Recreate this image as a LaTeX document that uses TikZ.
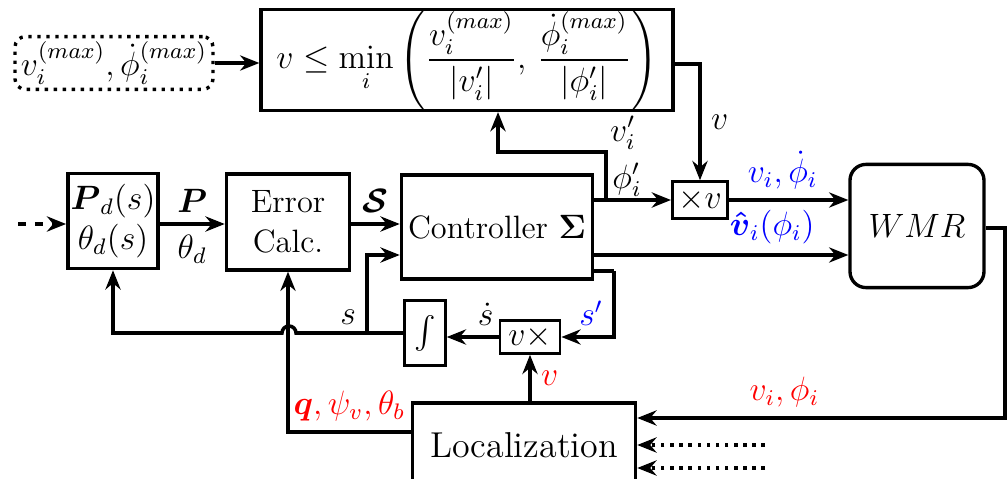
\documentclass[tikz,border=0pt]{standalone}
\usepackage{amsmath,amssymb}
\usepackage{tikz}
\usetikzlibrary{arrows.meta,positioning,calc}

\begin{document}
\begin{tikzpicture}[x=0.125mm, y=-0.125mm, line width=1.25pt,
    every node/.style={font=\fontsize{11.5}{14}\selectfont},
    blk/.style={draw, line width=1.2pt, inner sep=1pt},
    arr/.style={-{Stealth[length=2.4mm,width=1.9mm]}}]
            \useasboundingbox (0,0) rectangle (1008,479);

            % Blocks
            \node[blk, dotted, rounded corners=1.3mm, minimum width=24.75mm, minimum height=6.6mm] (Lim) at (114,63) {$v_i^{(max)},\dot{\phi}_i^{(max)}$};
            \node[blk, inner sep=0pt, minimum width=51.5mm, minimum height=12.6mm, font=\fontsize{11.9}{14}\selectfont] (MinBox) at (467,60) {$v \le \displaystyle\min_i \left(\frac{v_i^{(max)}}{|v_i'|},\, \frac{\dot{\phi}_i^{(max)}}{|\phi_i'|}\right)$};
            \node[blk, align=center, minimum width=11.25mm, minimum height=11.9mm] (Pd) at (113,221) {$\boldsymbol{P}_d(s)$\\$\theta_d(s)$};
            \node[blk, align=center, minimum width=15.4mm, minimum height=12mm] (Err) at (288,222) {Error\\Calc.};
            \node[blk, minimum width=23.9mm, minimum height=13mm] (Ctrl) at (497,227) {Controller $\boldsymbol{\Sigma}$};
            \node[blk, line width=1pt, minimum width=6.9mm, minimum height=4.6mm] (MulV) at (700,200) {$\times v$};
            \node[blk, rounded corners=2mm, minimum width=16.75mm, minimum height=15.4mm] (WMR) at (917,226) {$WMR$};
            \node[blk, line width=1pt, minimum width=7.5mm, minimum height=4.1mm] (VMul) at (530,337) {$v\times$};
            \node[blk, line width=1pt, minimum width=5.1mm, minimum height=8.1mm] (Int) at (425,333) {$\int$};
            \node[blk, minimum width=27.9mm, minimum height=10.5mm, font=\fontsize{12.8}{15}\selectfont] (Loc) at (524,445) {Localization};

            % Branch points
            \coordinate (DashIn) at (18,224);
            \coordinate (BrV) at (606,200);
            \coordinate (UpV) at (498,152);
            \coordinate (BrS) at (367,333);
            \coordinate (HopR) at (296,333);
            \coordinate (CtrlOut) at (614,271);
            \coordinate (WOut) at (1005,228);
            \coordinate (Dot1) at (765,445);
            \coordinate (Dot2) at (765,468);

            % Speed limit
            \draw[arr] (Lim.east) -- (Lim.east -| MinBox.west);
            \draw[arr] (MinBox.east |- 0,64) -| (MulV.north) node[pos=0.75, right] {$v$};
            \draw (Ctrl.east |- BrV) -- (BrV);
            \draw[arr] (BrV) -- (MulV.west);
            \draw[arr] (BrV) |- (UpV) -- (UpV |- MinBox.south);
            \node (VPr) at (623,133) {$v_i'$};
            \node (PhiPr) at (627,180) {$\phi_i'$};

            % To the robot
            \draw[arr] (MulV.east) -- (MulV.east -| WMR.west) node[pos=0.45, above, text=blue] {$v_i,\dot{\phi}_i$};
            \draw[arr] (Ctrl.east |- 0,255) -- (WMR.west |- 0,255) node[pos=0.7, above, text=blue] {$\boldsymbol{\hat{v}}_i(\phi_i)$};
            \draw[arr] (WMR.east |- WOut) -- (WOut) |- (Loc.east |- 0,418) node[pos=0.8, above, text=red] {$v_i,\phi_i$};
            \draw[arr, dotted] (Dot1) -- (Dot1 -| Loc.east);
            \draw[arr, dotted] (Dot2) -- (Dot2 -| Loc.east);

            % Path parameter loop
            \draw[arr] (VMul.south |- Loc.north) -- (VMul.south) node[midway, right, text=red] {$v$};
            \draw (Ctrl.east |- CtrlOut) -- (CtrlOut);
            \draw[arr] (CtrlOut) |- (VMul.east) node[pos=0.5, above left, text=blue] {$s'$};
            \draw[arr] (VMul.west) -- (VMul.west -| Int.east) node[pos=0.25, above] {$\dot{s}$};
            \draw[arr] (Int.west |- BrS) -- (HopR) arc[start angle=0, end angle=180, radius=0.875mm] -- (Pd.south |- BrS) -- (Pd.south);
            \draw[arr] (BrS) |- (Ctrl.west |- 0,255) node[pos=0.1, left] {$s$};
            \draw[arr] (Loc.west |- 0,432) -| (Err.south) node[pos=0.25, above, text=red] {$\boldsymbol{q},\psi_v,\theta_b$};

            % Main row
            \draw[arr, dashed] (DashIn) -- (Pd.west |- DashIn);
            \draw[arr] (Pd.east |- DashIn) -- (Err.west |- DashIn) node[midway, above] {$\boldsymbol{P}$} node[midway, below] {$\theta_d$};
            \draw[arr] (Err.east |- DashIn) -- (Ctrl.west |- DashIn) node[midway, above] {$\boldsymbol{\mathcal{S}}$};
        \end{tikzpicture}
\end{document}
